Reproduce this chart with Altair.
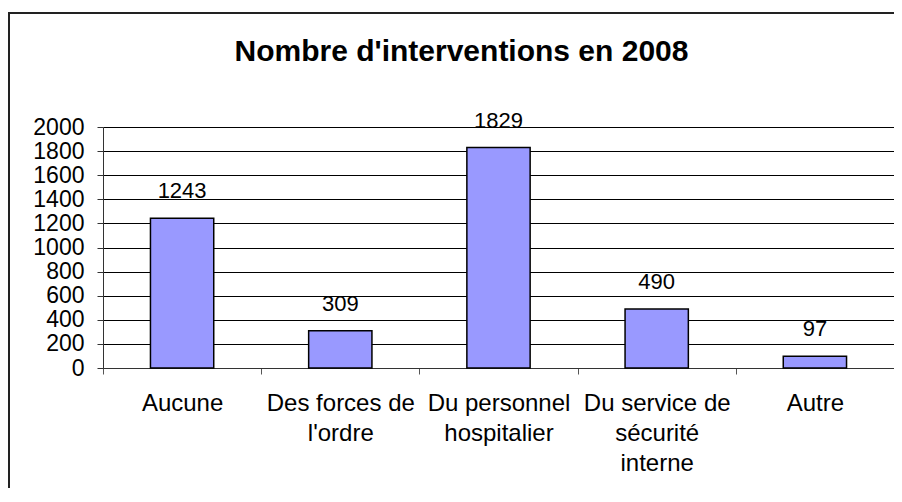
import altair as alt
import pandas as pd

categories = [
    "Aucune",
    "Des forces de\nl'ordre",
    "Du personnel\nhospitalier",
    "Du service de\nsécurité\ninterne",
    "Autre",
]
values = [1243, 309, 1829, 490, 97]
y_ticks = [0, 200, 400, 600, 800, 1000, 1200, 1400, 1600, 1800, 2000]
title_text = "Nombre d'interventions en 2008"

df = pd.DataFrame({"cat": categories, "val": values})

FONT = "Liberation Sans"
W, H = 791, 241

x_enc = alt.X(
    "cat:N",
    sort=categories,
    title=None,
    scale=alt.Scale(paddingInner=0, paddingOuter=0),
    axis=alt.Axis(
        labelAngle=0,
        labelExpr="split(datum.label, '\\n')",
        labelFont=FONT,
        labelFontSize=24,
        labelColor="black",
        labelLineHeight=30,
        labelPadding=17,
        labelOverlap=False,
        tickBand="extent",
        tickSize=6,
        tickColor="#555555",
        domainColor="#333333",
        grid=False,
        labelBaseline="top",
    ),
)

y_enc = alt.Y(
    "val:Q",
    title=None,
    scale=alt.Scale(domain=[0, 2000], nice=False),
    axis=alt.Axis(
        values=y_ticks,
        format="d",
        labelOverlap=False,
        labelFont=FONT,
        labelFontSize=23,
        labelColor="black",
        labelPadding=13,
        tickSize=6,
        tickColor="#333333",
        domainColor="#333333",
        gridColor="black",
        gridWidth=1,
        gridOpacity=1,
    ),
)

bars = alt.Chart(df).mark_bar(
    width=alt.RelativeBandSize(0.4),
    color="#9999FF",
    stroke="black",
    strokeWidth=1.5,
).encode(x=x_enc, y=y_enc)

labels = alt.Chart(df).mark_text(
    font=FONT, fontSize=22, color="black", baseline="alphabetic", dy=-20
).encode(x=x_enc, y=y_enc, text="val:Q")

# chart frame (only its top and left edges are inside the picture)
frame_top = alt.Chart(df).mark_rule(
    stroke="#222222", strokeWidth=2, clip=False
).encode(x=alt.value(-95), x2=alt.value(W + 60), y=alt.value(-114))

frame_left = alt.Chart(df).mark_rule(
    stroke="#222222", strokeWidth=2, clip=False
).encode(x=alt.value(-94), y=alt.value(-115), y2=alt.value(H + 200))

chart = (
    alt.layer(frame_top, frame_left, bars, labels)
    .properties(
        width=W,
        height=H,
        autosize=alt.AutoSizeParams(type="none"),
        padding={"left": 95, "top": 119, "right": 0, "bottom": 120},
        title=alt.TitleParams(
            title_text,
            font=FONT,
            fontSize=30,
            fontWeight="bold",
            color="black",
            anchor="middle",
            baseline="alphabetic",
            dx=-37,
            offset=0,
            dy=80,
        ),
    )
    .configure_view(stroke="#808080", strokeWidth=1)
    .configure(background="white")
)

chart.save("out.html", embed_options={"renderer": "svg", "actions": False})
